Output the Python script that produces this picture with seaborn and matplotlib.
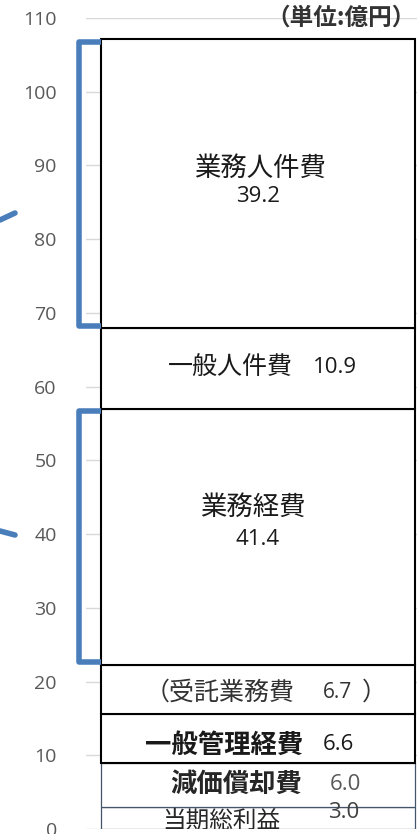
import matplotlib
matplotlib.use("Agg")
import matplotlib.pyplot as plt
from matplotlib.lines import Line2D
import seaborn as sns
import numpy as np

# stacked segments, bottom -> top (heights as drawn in the bar)
segments = ["当期総利益", "減価償却費", "一般管理経費", "受託業務費", "業務経費", "一般人件費", "業務人件費"]
heights = [3.0, 6.0, 6.6, 6.7, 34.7, 10.9, 39.2]
shown_values = ["3.0", "6.0", "6.6", "6.7", "41.4", "10.9", "39.2"]
yticks = list(range(0, 111, 10))
unit_label = "（単位:億円）"

edge_colors = ["#44546a", "#44546a", "black", "black", "black", "black", "black"]
edge_widths = [0.9, 0.9, 1.5, 1.5, 1.5, 1.5, 1.5]
blue = "#4a7ebb"
jp = ["Noto Sans CJK JP", "DejaVu Sans"]
num = ["Open Sans", "DejaVu Sans"]

sns.set_style("white")
plt.rcParams["font.family"] = jp

fig = plt.figure(figsize=(4.17, 8.34), dpi=100)
ax = fig.add_axes([86 / 417, 5 / 834, 331 / 417, 811 / 834])

bottoms = np.concatenate([[0], np.cumsum(heights)[:-1]])
cum = np.cumsum(heights)
for i in range(len(heights)):
    sns.barplot(x=["total"], y=[heights[i]], bottom=bottoms[i], color="white",
                saturation=1, edgecolor=edge_colors[i], linewidth=edge_widths[i],
                width=1.0, ax=ax, zorder=2 + (i >= 2))

ax.set_xlim(-0.548, 0.507)
ax.set_ylim(0, 110)
ax.set_yticks(yticks)
ax.set_yticklabels([str(t) for t in yticks], family=num, fontsize=14, color="#595959")
ax.tick_params(axis="y", length=0, pad=21)
ax.set_xticks([])
ax.set_xlabel("")
ax.set_ylabel("")
ax.yaxis.grid(True, color="#d9d9d9", linewidth=1)
ax.set_axisbelow(True)
sns.despine(ax=ax, left=True, bottom=True)


def lab(s, x, y, ha="left", size=18, weight="normal", color="#1a1a1a", fam=jp):
    ax.text(x, y, s, ha=ha, va="center", fontsize=size, fontweight=weight,
            color=color, family=fam, clip_on=True, zorder=5)


lab(segments[6], 0.006, 89.6, ha="center", size=19)
lab(shown_values[6], 0.0, 85.8, ha="center", size=16, fam=num)
lab(segments[5], -0.287, 62.6, size=18)
lab(shown_values[5], 0.175, 62.6, size=16, fam=num)
lab(segments[4], -0.015, 43.6, ha="center", size=19)
lab(shown_values[4], 0.0, 39.2, ha="center", size=16, fam=num)
lab("（" + segments[3], 0.118, 18.5, ha="right", size=18, color="#333333")
lab(shown_values[3], 0.207, 18.5, size=15, color="#333333", fam=num)
lab("）", 0.33, 18.5, size=18, color="#333333")
lab(segments[2], -0.360, 11.4, size=19, weight="bold")
lab(shown_values[2], 0.207, 11.4, size=16, fam=num)
lab(segments[1], -0.280, 6.0, size=19, weight="bold", color="#262626")
lab(shown_values[1], 0.229, 6.0, size=16, color="#595959", fam=num)
lab(segments[0], -0.306, 1.0, size=17, color="#262626")
lab(shown_values[0], 0.223, 2.2, size=16, color="#404040", fam=num)

# blue brackets on the two 業務 segments
for lo, hi in [(cum[5], cum[6]), (cum[3], cum[4])]:
    ax.plot([-0.5, -0.57, -0.57, -0.5], [hi - 0.3, hi - 0.3, lo + 0.3, lo + 0.3],
            color=blue, linewidth=4, solid_joinstyle="round",
            solid_capstyle="butt", clip_on=False, zorder=4)

# connector stubs entering from the left edge
fig.add_artist(Line2D([0, 15 / 417], [1 - 220 / 834, 1 - 213 / 834], color=blue, linewidth=4))
fig.add_artist(Line2D([0, 15 / 417], [1 - 531 / 834, 1 - 535 / 834], color=blue, linewidth=4))

fig.text(416 / 417, 1 - 18 / 834, unit_label, ha="right", va="center",
         fontsize=17, color="#333333", family=jp, fontweight="bold")

fig.savefig("out.png", dpi=100)
